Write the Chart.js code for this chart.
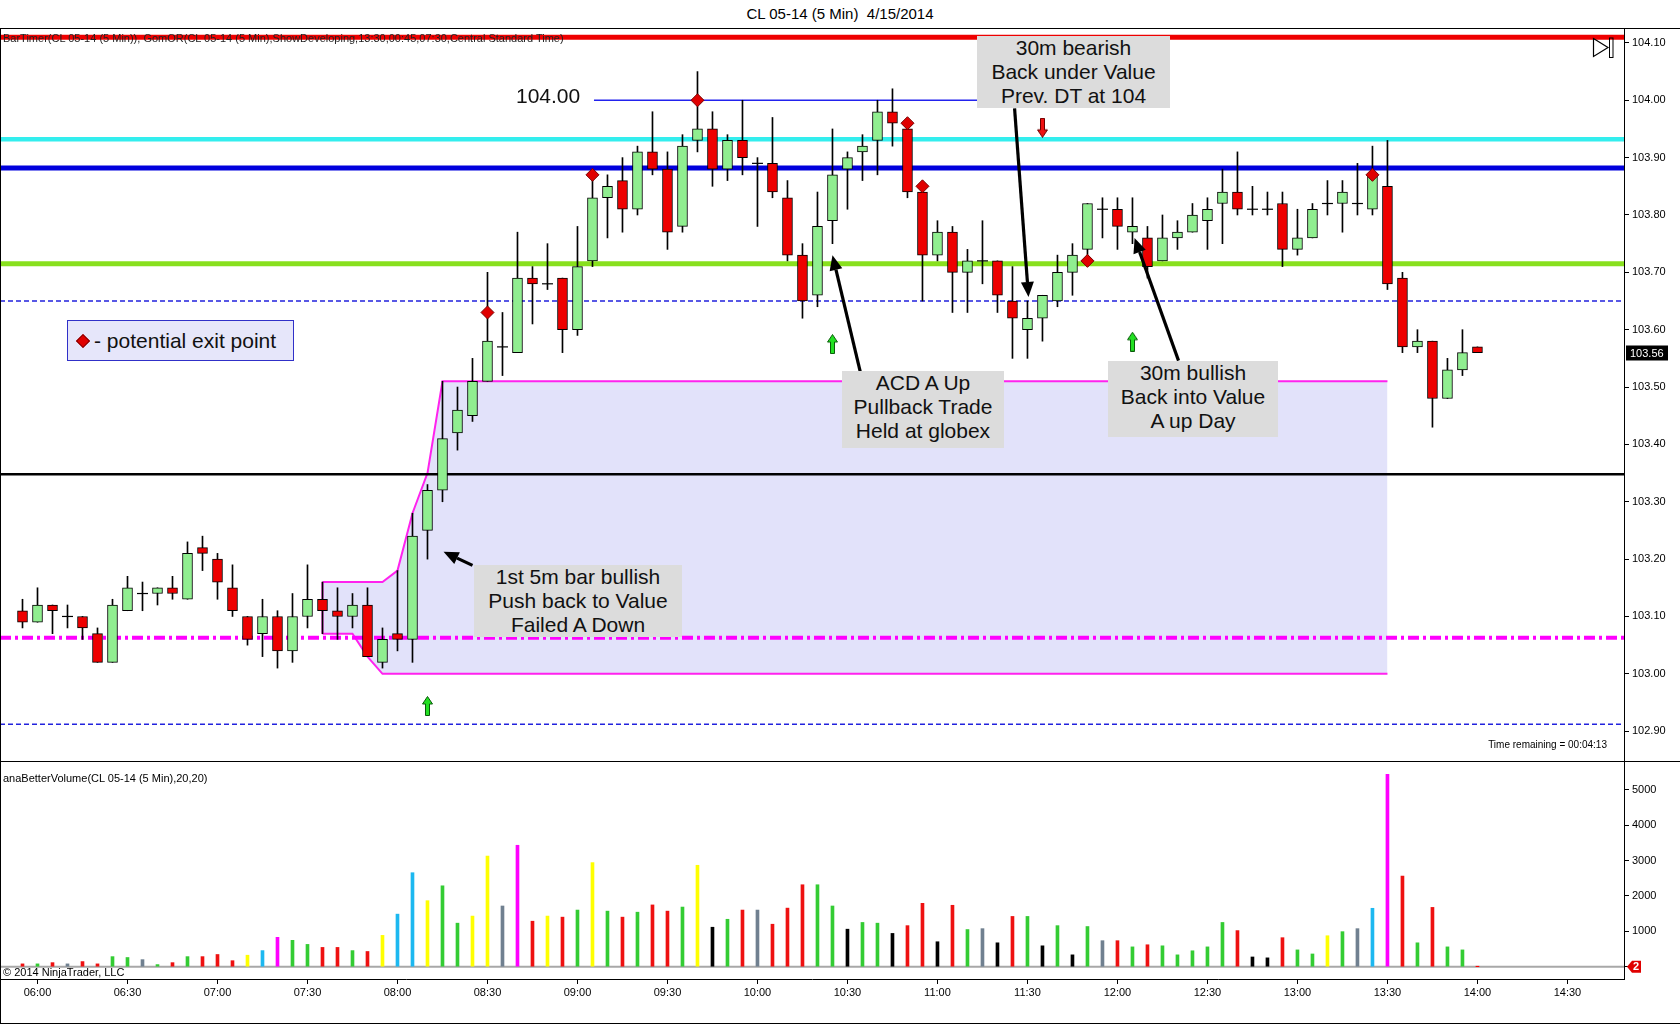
<!DOCTYPE html>
<html><head><meta charset="utf-8"><title>CL 05-14 (5 Min) 4/15/2014</title>
<script src="https://cdn.jsdelivr.net/npm/chart.js@4.4.1/dist/chart.umd.min.js"></script>
<style>
html,body{margin:0;padding:0;background:#fff;}
#wrap{position:relative;width:1680px;height:1025px;overflow:hidden;font-family:"Liberation Sans",Arial,sans-serif;color:#000;}
.abs{position:absolute;}
#title{top:5px;left:0;width:1680px;text-align:center;font-size:15px;}
.hl{position:absolute;background:#000;}
.note{position:absolute;background:#DCDCDC;text-align:center;font-size:21px;line-height:24px;color:#111;white-space:nowrap;}
.small{position:absolute;font-size:11px;white-space:nowrap;}
#legend{left:67px;top:320px;width:225px;height:39px;background:#E6E6FA;border:1px solid #3030C8;font-size:21px;line-height:39px;white-space:nowrap;color:#111;}
#legend .dia{display:inline-block;width:8px;height:8px;background:#E00000;border:1px solid #800000;transform:rotate(45deg);margin:0 6px 2px 10px;vertical-align:middle;}
</style></head><body><div id="wrap">
<div id="title" class="abs">CL 05-14 (5 Min)&nbsp;&nbsp;4/15/2014</div>
<canvas id="pc" class="abs" style="left:0;top:28px" width="1680" height="733"></canvas>
<canvas id="vc" class="abs" style="left:0;top:761px" width="1680" height="262"></canvas>
<div class="hl" style="left:0;top:28px;width:1680px;height:1px"></div>
<div class="hl" style="left:0;top:28px;width:1px;height:996px"></div>
<div class="hl" style="left:0;top:761px;width:1680px;height:1px"></div>
<div class="hl" style="left:0;top:1023px;width:1680px;height:1px"></div>
<div class="small" style="left:3px;top:32px;color:#222;">BarTimer(CL 05-14 (5 Min)), GomOR(CL 05-14 (5 Min),ShowDeveloping,13:30,00:45,07:30,Central Standard Time)</div>
<svg class="abs" style="left:1592px;top:37px" width="24" height="22"><polygon points="1.5,1.5 16,10.5 1.5,19.5" fill="none" stroke="#000" stroke-width="1.2"/><rect x="17.5" y="1" width="3.5" height="19.5" fill="none" stroke="#000" stroke-width="1"/></svg>
<div class="abs" style="left:516px;top:84px;font-size:21px;color:#111;">104.00</div>
<div class="note" style="left:977px;top:36px;width:193px;height:72px">30m bearish<br>Back under Value<br>Prev. DT at 104</div>
<div class="note" style="left:842px;top:371px;width:162px;height:77px;padding-top:0">ACD A Up<br>Pullback Trade<br>Held at globex</div>
<div class="note" style="left:1108px;top:361px;width:170px;height:76px">30m bullish<br>Back into Value<br>A up Day</div>
<div class="note" style="left:474px;top:565px;width:208px;height:72px">1st 5m bar bullish<br>Push back to Value<br>Failed A Down</div>
<div id="legend" class="abs"><span class="dia"></span>- potential exit point</div>
<div class="small" style="right:73px;top:739px;font-size:10px;">Time remaining = 00:04:13</div>
<div class="small" style="left:3px;top:772px;">anaBetterVolume(CL 05-14 (5 Min),20,20)</div>
<div class="small" style="left:3px;top:966px;">© 2014 NinjaTrader, LLC</div>
</div>
<script>
// ---------------- DATA ----------------
const times = ['05:55','06:00','06:05','06:10','06:15','06:20','06:25','06:30','06:35','06:40','06:45','06:50','06:55','07:00','07:05','07:10','07:15','07:20','07:25','07:30','07:35','07:40','07:45','07:50','07:55','08:00','08:05','08:10','08:15','08:20','08:25','08:30','08:35','08:40','08:45','08:50','08:55','09:00','09:05','09:10','09:15','09:20','09:25','09:30','09:35','09:40','09:45','09:50','09:55','10:00','10:05','10:10','10:15','10:20','10:25','10:30','10:35','10:40','10:45','10:50','10:55','11:00','11:05','11:10','11:15','11:20','11:25','11:30','11:35','11:40','11:45','11:50','11:55','12:00','12:05','12:10','12:15','12:20','12:25','12:30','12:35','12:40','12:45','12:50','12:55','13:00','13:05','13:10','13:15','13:20','13:25','13:30','13:35','13:40','13:45','13:50','13:55','14:00'];
const opens  = [103.11,103.09,103.12,103.10,103.10,103.07,103.02,103.11,103.14,103.14,103.15,103.13,103.22,103.20,103.15,103.10,103.07,103.10,103.04,103.10,103.13,103.11,103.10,103.12,103.02,103.07,103.06,103.25,103.32,103.42,103.45,103.51,103.57,103.56,103.69,103.68,103.69,103.60,103.72,103.83,103.86,103.81,103.91,103.88,103.78,103.93,103.95,103.88,103.93,103.89,103.89,103.83,103.73,103.66,103.79,103.88,103.91,103.93,103.98,103.95,103.84,103.73,103.77,103.70,103.72,103.72,103.65,103.60,103.62,103.65,103.70,103.74,103.81,103.81,103.77,103.76,103.72,103.76,103.77,103.79,103.82,103.84,103.81,103.81,103.82,103.74,103.76,103.82,103.82,103.82,103.81,103.85,103.69,103.57,103.58,103.48,103.53,103.57];
const highs  = [103.13,103.15,103.12,103.12,103.10,103.08,103.13,103.17,103.16,103.15,103.17,103.23,103.24,103.21,103.19,103.10,103.13,103.11,103.14,103.19,103.16,103.15,103.14,103.15,103.08,103.18,103.28,103.33,103.51,103.50,103.55,103.70,103.63,103.77,103.71,103.75,103.69,103.78,103.87,103.87,103.90,103.92,103.98,103.91,103.94,104.05,103.98,103.94,104.00,103.90,103.97,103.86,103.75,103.84,103.95,103.91,103.94,104.00,104.02,103.96,103.85,103.79,103.78,103.74,103.79,103.72,103.71,103.65,103.66,103.73,103.75,103.82,103.83,103.83,103.83,103.78,103.80,103.79,103.82,103.83,103.88,103.91,103.85,103.84,103.84,103.81,103.82,103.86,103.86,103.89,103.92,103.93,103.70,103.60,103.58,103.55,103.60,103.57];
const lows   = [103.08,103.09,103.07,103.08,103.06,103.02,103.02,103.11,103.11,103.12,103.13,103.13,103.18,103.13,103.10,103.05,103.03,103.01,103.02,103.08,103.07,103.06,103.08,103.03,103.01,103.04,103.02,103.20,103.30,103.39,103.44,103.51,103.52,103.56,103.61,103.67,103.56,103.59,103.71,103.76,103.77,103.80,103.87,103.74,103.77,103.91,103.85,103.86,103.87,103.78,103.83,103.72,103.62,103.64,103.75,103.81,103.86,103.87,103.92,103.83,103.65,103.72,103.63,103.63,103.68,103.63,103.55,103.55,103.58,103.64,103.66,103.72,103.76,103.74,103.75,103.69,103.72,103.74,103.77,103.74,103.75,103.80,103.80,103.80,103.71,103.73,103.76,103.80,103.77,103.80,103.80,103.67,103.56,103.56,103.43,103.48,103.52,103.56];
const closes = [103.09,103.12,103.11,103.10,103.08,103.02,103.12,103.15,103.14,103.15,103.14,103.21,103.21,103.16,103.11,103.06,103.10,103.04,103.10,103.13,103.11,103.10,103.12,103.03,103.06,103.06,103.24,103.32,103.41,103.46,103.51,103.58,103.57,103.69,103.68,103.68,103.60,103.71,103.83,103.85,103.81,103.91,103.88,103.77,103.92,103.95,103.88,103.93,103.90,103.89,103.84,103.73,103.65,103.78,103.87,103.90,103.92,103.98,103.96,103.84,103.73,103.77,103.70,103.72,103.72,103.66,103.62,103.62,103.66,103.70,103.73,103.82,103.81,103.78,103.78,103.71,103.76,103.77,103.80,103.81,103.84,103.81,103.81,103.81,103.74,103.76,103.81,103.82,103.84,103.82,103.87,103.68,103.57,103.58,103.48,103.53,103.56,103.56];
const volumes = [80,80,115,80,145,80,285,260,200,60,115,285,285,345,170,325,455,830,745,630,545,545,455,430,885,1485,2655,1865,2285,1230,1430,3125,1715,3430,1285,1430,1400,1600,2940,1570,1400,1540,1745,1570,1685,2865,1115,1340,1600,1600,1200,1655,2315,2315,1715,1060,1250,1230,940,1160,1790,705,1735,1050,1075,675,1420,1420,590,1160,335,1135,735,735,560,620,590,335,450,560,1250,1020,275,250,820,475,360,875,990,1075,1650,5430,2560,675,1675,560,475,2];
// volume classification (R=down, G=up, Y=high-vol, B=climax-up, M=climax, S=neutral, K=churn, N=developing)
const volTypes = 'RGRSRRGGSGRGRRRYBMGGRRGRYBBYGGYYSMRYRGYGRGRRGYKGRSRRRGGKGGKRRKRGSKRGKGKGSRGRGGGGGRKKRGGYGSBMRGRGGN'.split('');
const volTicks = [0,1000,2000,3000,4000,5000];
// exit-point diamonds
const exitTimes  = ['08:30','09:05','09:40','10:50','10:55','11:50','13:25'];
const exitPrices = [103.63,103.87,104.00,103.96,103.85,103.72,103.87];
// signal arrows
const upArrowTimes  = ['08:10','10:25','12:05'];
const upArrowPrices = [102.944,103.575,103.579];
const downArrowTimes  = ['11:35'];
const downArrowPrices = [103.952];
// horizontal reference levels
const levelPrices = [104.11, 103.932, 103.882, 103.715, 103.65, 103.348, 103.063, 102.912];
const dtLevel = 104.00; const dtFrom = '09:05'; const dtTo = '11:15';
// opening range (GomOR developing)
const orTopTimes = ['07:35','07:55','08:00','08:05','08:10','08:15','13:30'];
const orTopVals  = [103.16,103.16,103.18,103.28,103.35,103.51,103.51];
const orBotTimes = ['07:35','07:45','07:50','07:55','13:30'];
const orBotVals  = [103.07,103.07,103.03,103.00,103.00];
// time axis tick labels
const timeTicks = ['06:00','06:30','07:00','07:30','08:00','08:30','09:00','09:30','10:00','10:30','11:00','11:30','12:00','12:30','13:00','13:30','14:00','14:30'];
// callout arrows (time, price, bar fraction)
const callouts = [
  {from:['11:25',103.986,0.14], to:['11:30',103.657,0.07]},
  {from:['10:30',103.527,0.85], to:['10:25',103.730,0.00]},
  {from:['12:20',103.546,0.07], to:['12:05',103.760,0.14]},
  {from:['08:25',103.189,0.00], to:['08:15',103.213,0.07]}
];

// ---------------- HELPERS ----------------
const FONT = '"Liberation Sans", Arial, sans-serif';
Chart.defaults.font.family = FONT;
const toMin = t => { const [h,m] = t.split(':').map(Number); return h*60+m; };
const t0 = toMin(times[0]);
const idxOf = t => (toMin(t) - t0) / 5;
const X_MIN = -1.5, X_MAX = 106.77;
const GREEN_BODY = '#90EE90', RED_BODY = '#EE0000';
const volColorMap = {R:'#EE1111',G:'#33CC33',Y:'#FFFF00',B:'#1CB8F0',M:'#FF00FF',S:'#708090',K:'#000000',N:'#FF0000'};

function makeArrow(up, fill, stroke){
  const c = document.createElement('canvas'); c.width = 11; c.height = 20;
  const g = c.getContext('2d');
  g.beginPath();
  if (up){ g.moveTo(5.5,0.5); g.lineTo(10.5,8); g.lineTo(7.5,8); g.lineTo(7.5,19.5); g.lineTo(3.5,19.5); g.lineTo(3.5,8); g.lineTo(0.5,8); }
  else { g.moveTo(5.5,19.5); g.lineTo(10.5,12); g.lineTo(7.5,12); g.lineTo(7.5,0.5); g.lineTo(3.5,0.5); g.lineTo(3.5,12); g.lineTo(0.5,12); }
  g.closePath(); g.fillStyle = fill; g.fill(); g.strokeStyle = stroke; g.lineWidth = 1; g.stroke();
  return c;
}
function drawCallout(ctx, x1, y1, x2, y2){
  const ang = Math.atan2(y2-y1, x2-x1), head = 15, hw = 6.5;
  const bx = x2 - head*Math.cos(ang), by = y2 - head*Math.sin(ang);
  ctx.beginPath(); ctx.moveTo(x1,y1); ctx.lineTo(bx,by);
  ctx.strokeStyle = '#000'; ctx.lineWidth = 3.2; ctx.stroke();
  ctx.beginPath(); ctx.moveTo(x2,y2);
  ctx.lineTo(bx + hw*Math.sin(ang), by - hw*Math.cos(ang));
  ctx.lineTo(bx - hw*Math.sin(ang), by + hw*Math.cos(ang));
  ctx.closePath(); ctx.fillStyle = '#000'; ctx.fill();
}

// ---------------- PRICE CHART ----------------
const isDoji = i => opens[i] === closes[i];
const wickData = times.map((t,i)=>({x:i, y:[lows[i], highs[i]]}));
const bodyIdx = times.map((t,i)=>i).filter(i=>!isDoji(i));
const bodyData = bodyIdx.map(i=>({x:i, y:[Math.min(opens[i],closes[i]), Math.max(opens[i],closes[i])]}));
const bodyColors = bodyIdx.map(i=> closes[i] > opens[i] ? GREEN_BODY : RED_BODY);
const dojiData = times.map((t,i)=>i).filter(isDoji).map(i=>({x:i, y:opens[i]}));

const levelStyles = [
  {color:'#EE0000', width:5},
  {color:'#33EEEE', width:4.5},
  {color:'#0000DD', width:5},
  {color:'#88E01E', width:5},
  {color:'#2222DD', width:1.5, dash:[5,3]},
  {color:'#000000', width:2.5},
  {color:'#FF00FF', width:4, dash:[11,4,3,4]},
  {color:'#2222DD', width:1.5, dash:[5,3]}
];
const levelSets = levelPrices.map((p,k)=>({
  type:'line', data:[{x:X_MIN,y:p},{x:X_MAX,y:p}],
  borderColor:levelStyles[k].color, borderWidth:levelStyles[k].width,
  borderDash:levelStyles[k].dash || [], pointRadius:0, order:80, fill:false
}));

const orTopData = orTopTimes.map((t,k)=>({x:idxOf(t), y:orTopVals[k]}));
const orBotData = orBotTimes.map((t,k)=>({x:idxOf(t), y:orBotVals[k]}));

const priceOverlay = {
  id:'priceOverlay',
  afterDraw(chart){
    const {ctx, scales:{x,y}} = chart;
    ctx.save();
    callouts.forEach(c=>{
      drawCallout(ctx,
        x.getPixelForValue(idxOf(c.from[0])+c.from[2]), y.getPixelForValue(c.from[1]),
        x.getPixelForValue(idxOf(c.to[0])+c.to[2]), y.getPixelForValue(c.to[1]));
    });
    const lp = closes[closes.length-1];
    const py = Math.round(y.getPixelForValue(lp));
    ctx.fillStyle = '#000'; ctx.fillRect(x.right+2, py-7.5, 42, 15);
    ctx.fillStyle = '#fff'; ctx.font = '11px '+FONT; ctx.textBaseline = 'middle'; ctx.textAlign='left';
    ctx.fillText(lp.toFixed(2), x.right+6, py+0.5);
    ctx.restore();
  }
};

new Chart(document.getElementById('pc'), {
  type:'bar',
  data:{ datasets:[
    {type:'line', label:'orTop', data:orTopData, borderColor:'#FF22EE', borderWidth:2, pointRadius:0, fill:'+1', backgroundColor:'rgba(226,226,250,1)', order:95, tension:0},
    {type:'line', label:'orBot', data:orBotData, borderColor:'#FF22EE', borderWidth:2, pointRadius:0, fill:false, order:94, tension:0},
    {type:'line', label:'orEdge', data:[{x:idxOf(orTopTimes[0]),y:orTopVals[0]},{x:idxOf(orBotTimes[0]),y:orBotVals[0]}], borderColor:'#FF22EE', borderWidth:2, pointRadius:0, fill:false, order:93},
    ...levelSets,
    {type:'line', label:'dt', data:[{x:idxOf(dtFrom)+0.1,y:dtLevel},{x:idxOf(dtTo),y:dtLevel}], borderColor:'#2222EE', borderWidth:1.5, pointRadius:0, fill:false, order:79},
    {type:'bar', label:'wicks', data:wickData, backgroundColor:'#000', barThickness:1, grouped:false, order:30},
    {type:'bar', label:'bodies', data:bodyData, backgroundColor:bodyColors, borderColor:'#000', borderWidth:1, borderSkipped:false, barThickness:10, grouped:false, order:20},
    {type:'line', label:'doji', data:dojiData, showLine:false, pointStyle:'line', pointRadius:5.5, borderColor:'#000', pointBorderWidth:1.2, order:10},
    {type:'line', label:'exits', data:exitTimes.map((t,k)=>({x:idxOf(t), y:exitPrices[k]})), showLine:false, pointStyle:'rectRot', pointRadius:6.5, pointBackgroundColor:'#E00000', pointBorderColor:'#7A0000', pointBorderWidth:1, order:5},
    {type:'line', label:'up', data:upArrowTimes.map((t,k)=>({x:idxOf(t), y:upArrowPrices[k]})), showLine:false, pointStyle:makeArrow(true,'#22E022','#0A5A0A'), order:4},
    {type:'line', label:'down', data:downArrowTimes.map((t,k)=>({x:idxOf(t), y:downArrowPrices[k]})), showLine:false, pointStyle:makeArrow(false,'#EE1111','#6A0000'), order:4}
  ]},
  options:{
    responsive:false, animation:false, events:[],
    layout:{padding:0, autoPadding:false},
    plugins:{legend:{display:false}, tooltip:{enabled:false}},
    scales:{
      x:{type:'linear', min:X_MIN, max:X_MAX, offset:false, display:false},
      y:{type:'linear', position:'right', min:102.848, max:104.126,
         afterFit(s){ s.width = 56; s.paddingTop = 0; s.paddingBottom = 0; },
         ticks:{stepSize:0.1, includeBounds:false, padding:3, color:'#000', font:{size:11, family:FONT}, callback:v=>Number(v).toFixed(2)},
         grid:{drawOnChartArea:false, tickLength:5, color:'#000', lineWidth:1},
         border:{color:'#000', width:1}}
    }
  },
  plugins:[priceOverlay]
});

// ---------------- VOLUME CHART ----------------
const volOverlay = {
  id:'volOverlay',
  afterDraw(chart){
    const {ctx, scales:{x,y}} = chart;
    const py = y.getPixelForValue(0), px = x.right + 3;
    ctx.save();
    ctx.beginPath(); ctx.moveTo(px, py); ctx.lineTo(px+5, py-6); ctx.lineTo(px+14, py-6); ctx.lineTo(px+14, py+6); ctx.lineTo(px+5, py+6); ctx.closePath();
    ctx.fillStyle = '#E00000'; ctx.fill();
    ctx.fillStyle = '#fff'; ctx.font = 'bold 11px '+FONT; ctx.textBaseline='middle'; ctx.textAlign='center';
    ctx.fillText(String(volumes[volumes.length-1]), px+9, py+0.5);
    ctx.restore();
  }
};
new Chart(document.getElementById('vc'), {
  type:'bar',
  data:{ datasets:[
    {type:'line', label:'base', data:[{x:X_MIN,y:0},{x:X_MAX,y:0}], borderColor:'#A8A8A8', borderWidth:2, pointRadius:0, order:50},
    {type:'bar', label:'volume', data:volumes.map((v,i)=>({x:i,y:v})), backgroundColor:volTypes.map(c=>volColorMap[c]), barThickness:3, grouped:false, order:10}
  ]},
  options:{
    responsive:false, animation:false, events:[],
    layout:{padding:0, autoPadding:false},
    plugins:{legend:{display:false}, tooltip:{enabled:false}},
    scales:{
      x:{type:'linear', min:X_MIN, max:X_MAX, offset:false,
         afterFit(s){ s.height = 44; s.paddingLeft = 0; s.paddingRight = 0; },
         afterBuildTicks(s){ s.ticks = timeTicks.map(t=>({value:idxOf(t)})); },
         ticks:{autoSkip:false, maxRotation:0, padding:2, color:'#000', font:{size:11, family:FONT}, callback:(v,i)=>timeTicks[i]},
         grid:{drawOnChartArea:false, offset:false, tickLength:5, color:'#000'},
         border:{color:'#000', width:1}},
      y:{type:'linear', position:'right', min:-347, max:5810,
         afterFit(s){ s.width = 56; s.paddingTop = 0; s.paddingBottom = 0; },
         afterBuildTicks(s){ s.ticks = volTicks.map(v=>({value:v})); },
         ticks:{padding:3, color:'#000', font:{size:11, family:FONT}, callback:(v,i)=> volTicks[i]===0 ? '' : String(volTicks[i])},
         grid:{drawOnChartArea:false, tickLength:5, color:'#000'},
         border:{color:'#000', width:1}}
    }
  },
  plugins:[volOverlay]
});
</script>
</body></html>
